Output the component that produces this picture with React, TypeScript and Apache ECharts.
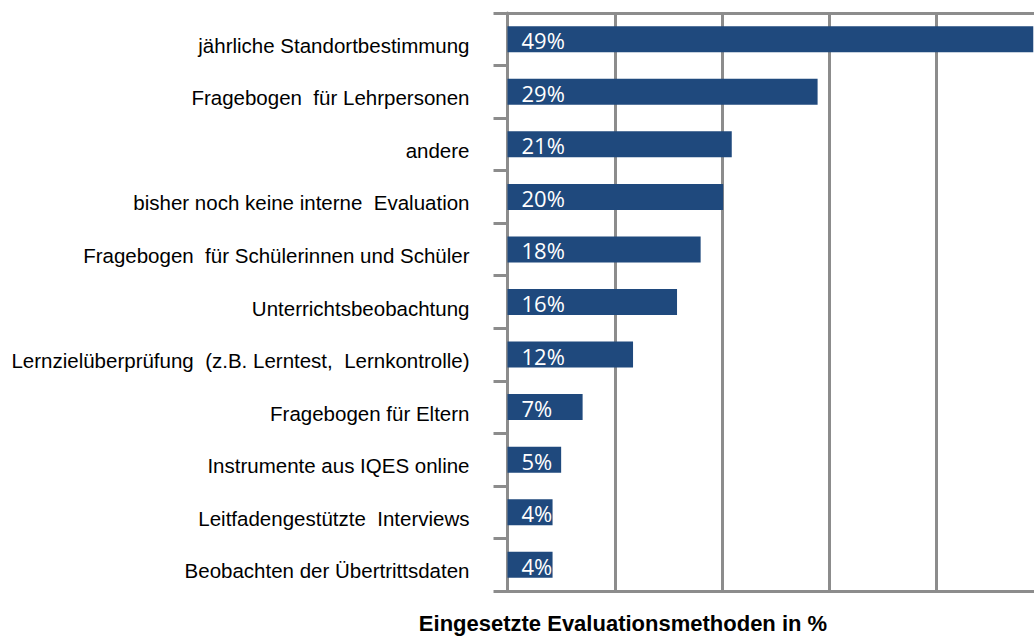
import React, { useEffect, useRef } from "react";
import * as echarts from "echarts";

const categories = [
  "jährliche Standortbestimmung",
  "Fragebogen  für Lehrpersonen",
  "andere",
  "bisher noch keine interne  Evaluation",
  "Fragebogen  für Schülerinnen und Schüler",
  "Unterrichtsbeobachtung",
  "Lernzielüberprüfung  (z.B. Lerntest,  Lernkontrolle)",
  "Fragebogen für Eltern",
  "Instrumente aus IQES online",
  "Leitfadengestützte  Interviews",
  "Beobachten der Übertrittsdaten",
];
const values = [49, 28.9, 20.9, 20.1, 18, 15.8, 11.7, 7, 5, 4.2, 4.2];
const valueLabels = ["49%", "29%", "21%", "20%", "18%", "16%", "12%", "7%", "5%", "4%", "4%"];
const axisTitle = "Eingesetzte Evaluationsmethoden in %";
const axisMin = 0;
const axisMax = 50;
const axisInterval = 10;

const GRAY = "#8c8c8c";
const BAR = "#1f497d";
const SANS = "'Liberation Sans', Arial, sans-serif";

export default function App() {
  const ref = useRef<HTMLDivElement>(null);
  useEffect(() => {
    if (!ref.current) return;
    const chart = echarts.init(ref.current, undefined, { renderer: "svg" });
    const xCommon = {
      type: "value" as const,
      min: axisMin,
      max: axisMax,
      interval: axisInterval,
      axisLabel: { show: false },
      axisTick: { show: false },
      axisLine: { show: true, lineStyle: { color: GRAY, width: 3 } },
    };
    chart.setOption({
      animation: false,
      backgroundColor: "#ffffff",
      grid: {
        left: 507.5,
        top: 13,
        width: 536.5,
        height: 578,
        containLabel: false,
        outerBoundsMode: "none",
      },
      xAxis: [
        { ...xCommon, position: "bottom", splitLine: { show: true, lineStyle: { color: GRAY, width: 3 } } },
        { ...xCommon, position: "top", splitLine: { show: false } },
      ],
      yAxis: {
        type: "category",
        inverse: true,
        data: categories,
        boundaryGap: true,
        axisLine: { show: true, lineStyle: { color: GRAY, width: 3 } },
        axisTick: { show: true, length: 14, lineStyle: { color: GRAY, width: 3 } },
        axisLabel: {
          margin: 38,
          color: "#000000",
          fontFamily: SANS,
          fontSize: 20.5,
          verticalAlign: "top",
          lineHeight: 12,
        },
        splitLine: { show: false },
      },
      series: [
        {
          type: "bar",
          xAxisIndex: 0,
          data: values,
          barWidth: 26,
          itemStyle: { color: BAR },
          label: {
            show: true,
            position: "insideLeft",
            distance: 14,
            offset: [0, 1],
            color: "#ffffff",
            fontFamily: "'Open Sans', sans-serif",
            fontSize: 22,
            formatter: (p: any) => valueLabels[p.dataIndex],
          },
        },
      ],
      graphic: [
        {
          type: "text",
          x: 623,
          y: 623,
          style: {
            text: axisTitle,
            textAlign: "center",
            textVerticalAlign: "middle",
            fill: "#000000",
            font: `bold 22px ${SANS}`,
          },
        },
      ],
    });
    return () => chart.dispose();
  }, []);
  return (
    <div style={{ position: "absolute", left: 0, top: 0, width: 1034, height: 637, overflow: "hidden" }}>
      <div ref={ref} style={{ position: "absolute", left: 0, top: 0, width: 1080, height: 637 }} />
    </div>
  );
}
